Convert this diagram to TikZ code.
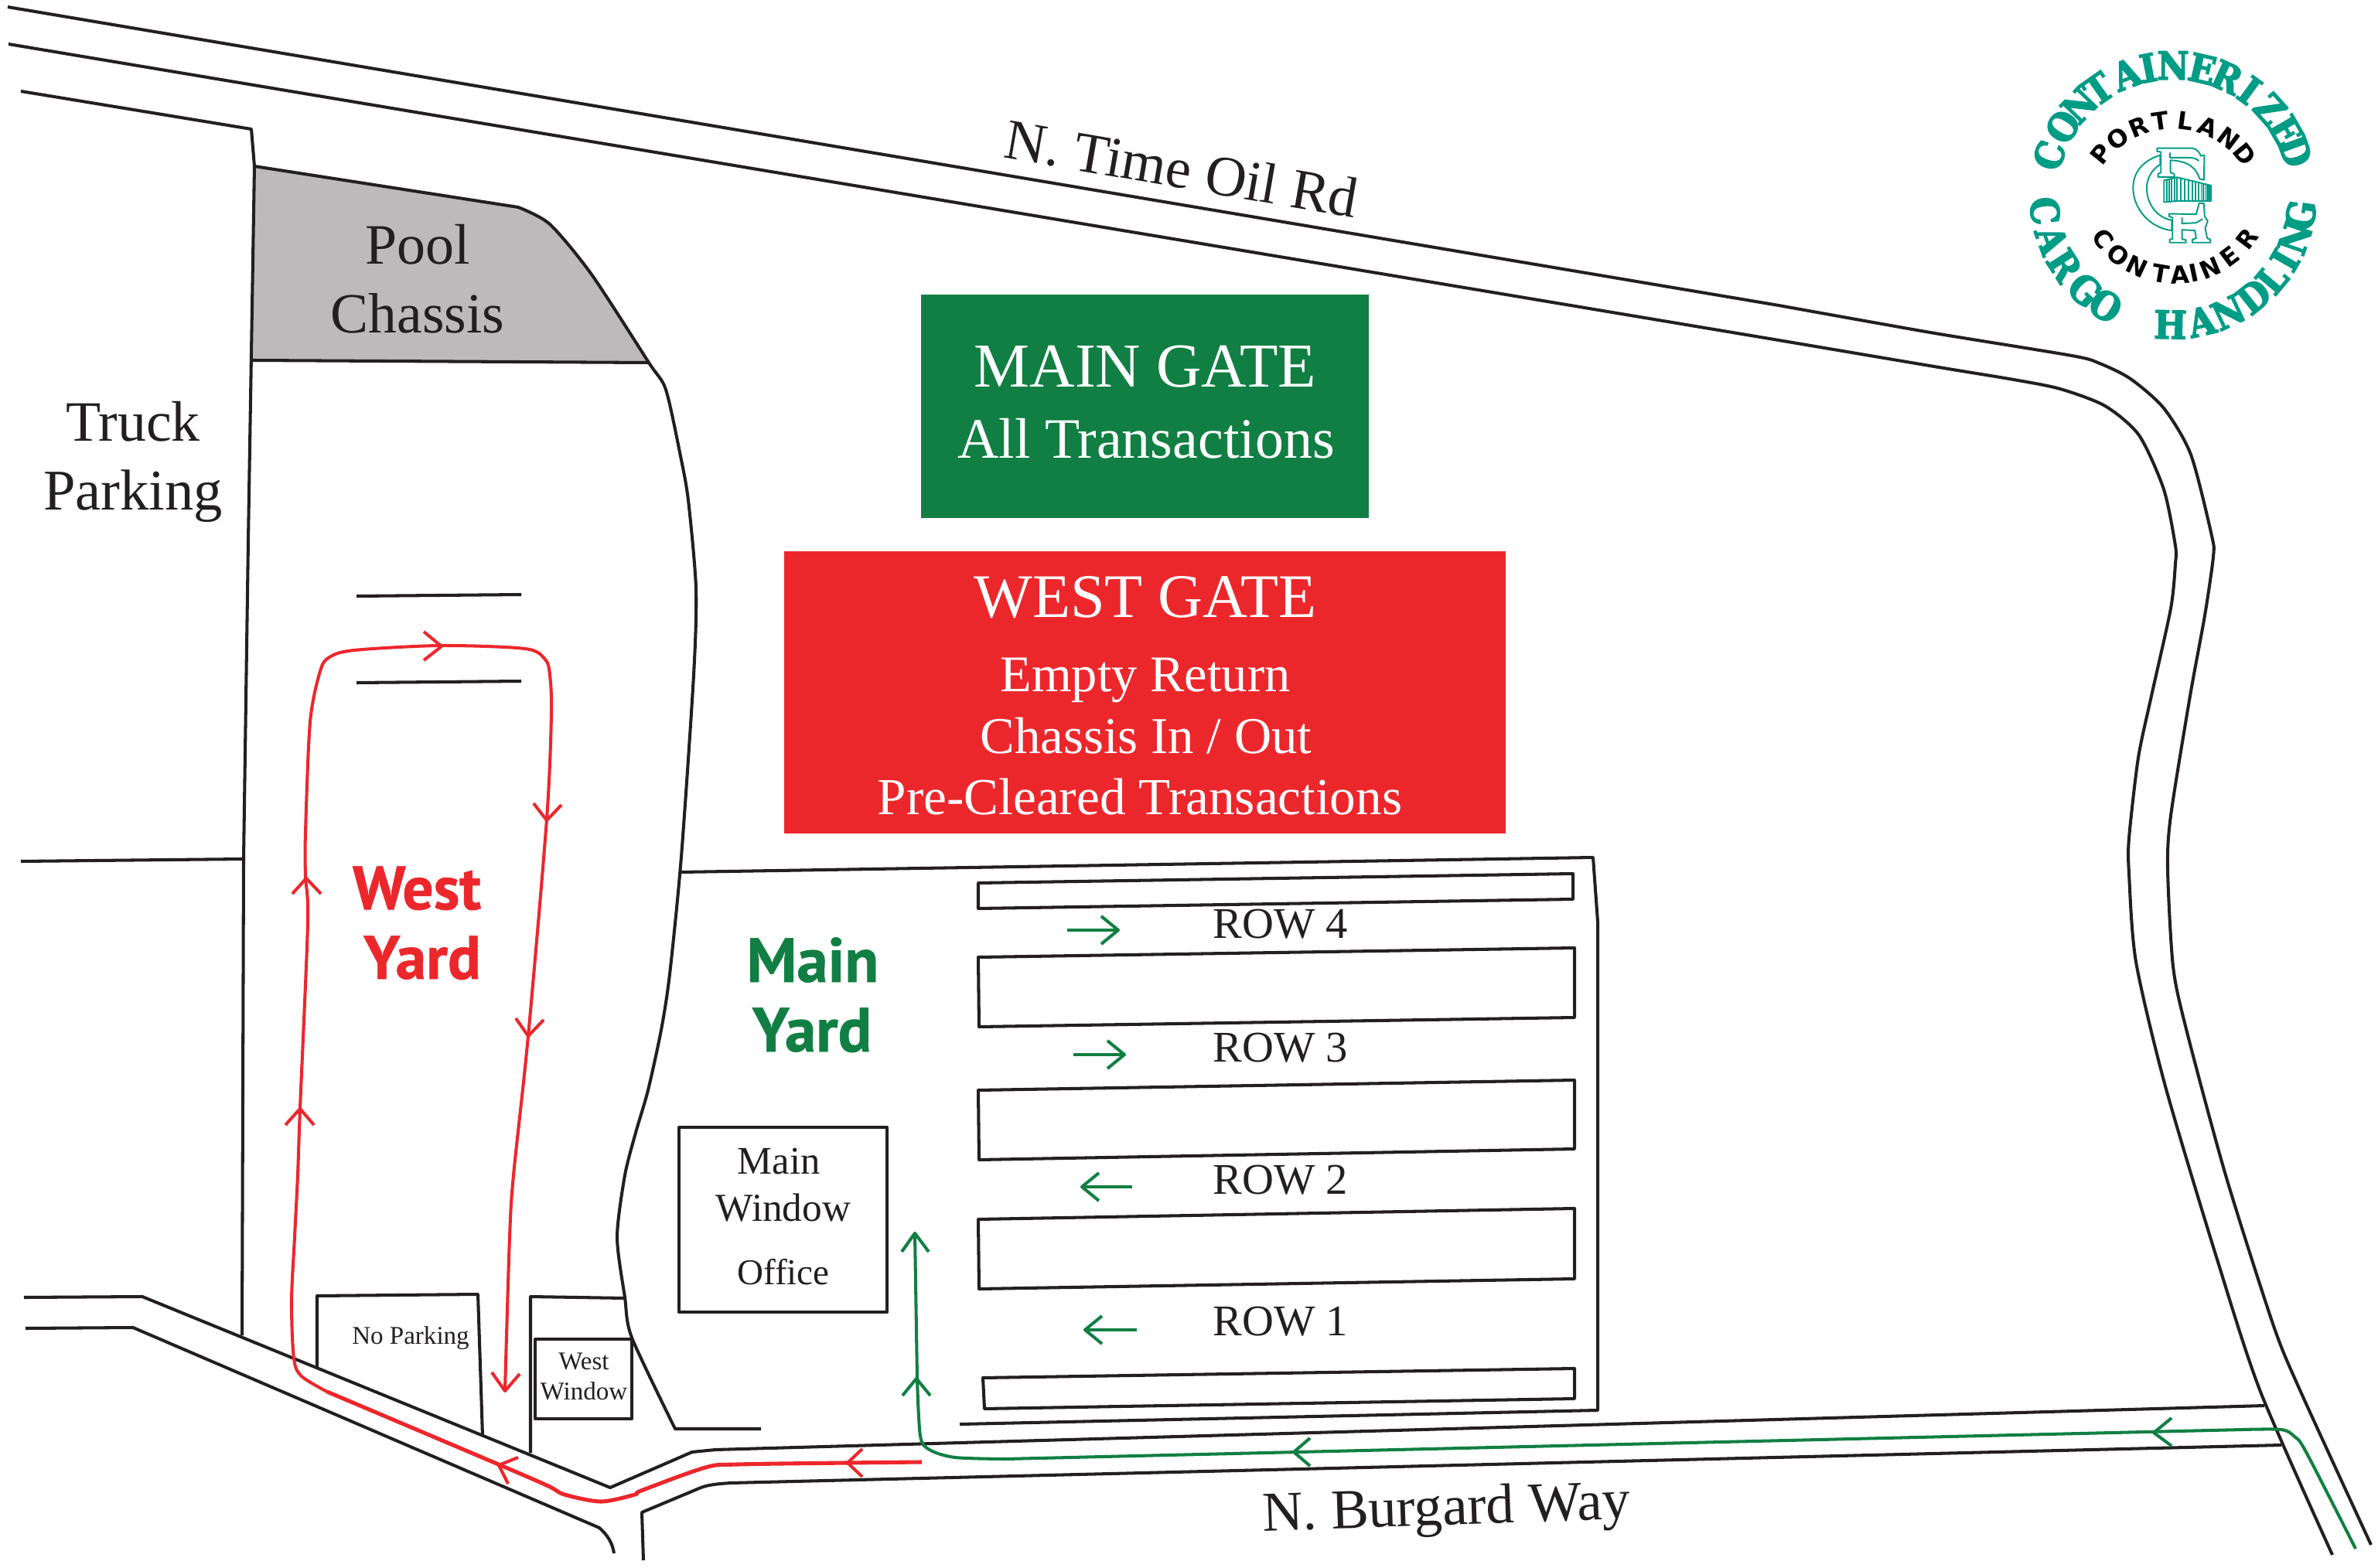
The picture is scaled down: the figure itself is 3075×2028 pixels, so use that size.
\documentclass[tikz,border=0pt]{standalone}
\usepackage{fontspec}
\setmainfont{Liberation Serif}
\newfontfamily\yardfont[BoldFeatures={FakeBold=0.8}]{PT Sans}
\newfontfamily\stencilfont[BoldFeatures={FakeBold=3}]{DejaVu Serif Condensed}
\newfontfamily\logosans{DejaVu Sans}
\definecolor{ink}{HTML}{231F20}
\definecolor{gategreen}{HTML}{117F43}
\definecolor{gatered}{HTML}{EC272C}
\definecolor{poolgray}{HTML}{BCBABB}
\definecolor{teal}{HTML}{009C86}
\newcommand\FS[1]{\fontsize{#1}{#1}\selectfont}
\tikzset{
  road/.style={draw=ink,line width=1.15pt,line join=round},
  redway/.style={draw=gatered,line width=1.15pt,line join=round},
  redroad/.style={draw=gatered,line width=1.45pt,line join=round},
  greenway/.style={draw=gategreen,line width=1.15pt,line join=round},
  lab/.style={anchor=base,inner sep=0pt,text=ink},
  gatelab/.style={anchor=base,inner sep=0pt,text=white},
  redyard/.style={anchor=base,inner sep=0pt,text=gatered,font=\yardfont\bfseries\FS{22.6}},
  greenyard/.style={anchor=base,inner sep=0pt,text=gategreen,font=\yardfont\bfseries\FS{23}},
  rowlab/.style={lab,font=\FS{16.1}},
  rowbox/.style={road,line cap=round},
  emblem/.style={draw=teal,line width=.55pt,fill=white,line join=round},
  stencilletter/.style={anchor=base,inner sep=0pt,text=teal,font=\stencilfont\bfseries\FS{14.2}},
  blackletter/.style={anchor=base,inner sep=0pt,text=black,font=\logosans\bfseries\FS{9}},
}
\begin{document}
\begin{tikzpicture}[x=0.01cm,y=-0.01cm]
\useasboundingbox (0,0) rectangle (3075,2028);
% top road
\draw[road] (10,9) -- (2300,395) plot[smooth,tension=.45] coordinates {(2300,395) (2496,430) (2679,460) (2715,470) (2755,490) (2798,528) (2833,588) (2860,693) (2862,720) (2851,796) (2832,900) (2807,1055) (2803,1124) (2810,1250) (2827,1331) (2878,1520) (2940,1715) (2975,1800) (3066,1998)};
\draw[road] (11,57) -- (2300,440) plot[smooth,tension=.45] coordinates {(2300,440) (2501,474) (2604,491) (2664,503) (2722,525) (2766,563) (2798,633) (2813,706) (2813,729) (2807,787) (2782,900) (2765,980) (2753,1084) (2753,1130) (2762,1244) (2800,1405) (2867,1629) (2923,1800) (3016,2011)};
% pool chassis
\fill[poolgray] (329,215) -- (670,268) -- (711,290) -- (765,355) -- (839,469) -- (326,466) -- cycle;
\draw[road] (27,118) -- (325,167) -- (329,215) -- (321,700) -- (315,1111) -- (313,1727);
\draw[road] (329,215) -- (670,268) plot[smooth,tension=.45] coordinates {(670,268) (711,290) (765,355) (839,469) (861,504) (880,590) (890,647) (900,761) (897,873) (881,1108) (866,1260) (855,1332) (838,1410) (822,1465) (808,1520) (798,1600) (808,1678) (817,1730) (873,1848)} -- (984,1848);
\draw[road] (326,466) -- (839,469);
\draw[road] (27,1114) -- (315,1111);
\draw[road] (461,771) -- (674,769);
\draw[road] (461,883) -- (674,881);
% main yard outline
\draw[road] (880,1128) -- (2060,1109) -- (2066,1192) -- (2066,1824) -- (1241,1842);
% row boxes
\draw[rowbox] (1265,1142) -- (2034,1130) -- (2034,1163) -- (1265,1175) -- cycle;
\draw[rowbox] (1265,1238) -- (2036,1226) -- (2036,1316) -- (1266,1328) -- cycle;
\draw[rowbox] (1265,1410) -- (2036,1397) -- (2036,1486) -- (1266,1500) -- cycle;
\draw[rowbox] (1265,1577) -- (2036,1563) -- (2036,1654) -- (1266,1667) -- cycle;
\draw[rowbox] (1271,1782) -- (2036,1770) -- (2036,1809) -- (1273,1822) -- cycle;
% main window office
\draw[road] (878,1458) rectangle (1147,1697);
% bottom road
\draw[road] (31,1678) -- (184,1677) -- (789,1924) -- (895,1878) .. controls (905,1877) and (915,1876) .. (925,1875) -- (2928,1818);
\draw[road] (33,1718) -- (172,1717) -- (775,1976) .. controls (785,1985) and (792,1995) .. (794,2009);
\draw[road] (832,2018) -- (830,1956) -- (904,1925) .. controls (915,1920) and (930,1919) .. (945,1918) -- (2950,1869);
% no parking + west window
\draw[road] (410,1768) -- (410,1676) -- (618,1674) -- (624,1857);
\draw[road] (686,1879) -- (686,1677) -- (808,1679);
\draw[road] (692,1732) rectangle (817,1835);
% gates
\fill[gategreen] (1191,381) rectangle (1770,670);
\fill[gatered] (1014,713) rectangle (1947,1078);
\node[gatelab,font=\FS{23}] (maingate) at (1481,501) {MAIN GATE};
\node[gatelab,font=\FS{21}] (alltrans) at (1482,593) {All Transactions};
\node[gatelab,font=\FS{22.8}] (westgate) at (1481,799) {WEST GATE};
\node[gatelab,font=\FS{18.9}] (empty) at (1481,894) {Empty Return};
\node[gatelab,font=\FS{19}] (chassisio) at (1482,974) {Chassis In / Out};
\node[gatelab,font=\FS{19.1}] (precleared) at (1474,1054) {Pre-Cleared Transactions};
% labels
\node[lab,font=\FS{21}] (pool) at (540,342) {Pool};
\node[lab,font=\FS{20.9}] (chassis) at (540,431) {Chassis};
\node[lab,font=\FS{21}] (truck) at (172,571) {Truck};
\node[lab,font=\FS{21.2}] (parking) at (172,660) {Parking};
\node[lab,font=\FS{21},rotate=-9.8] (timeoil) at (1524,243) {N. Time Oil Rd};
\node[lab,font=\FS{20.7},rotate=2] (burgard) at (1871,1972) {N. Burgard Way};
\node[redyard] (westw) at (539,1176) {West};
\node[redyard] (westy) at (546,1266) {Yard};
\node[greenyard] (mainm) at (1051,1270) {Main};
\node[greenyard] (mainy) at (1050,1360) {Yard};
\node[rowlab] (row4) at (1656,1213) {ROW 4};
\node[rowlab] (row3) at (1656,1373) {ROW 3};
\node[rowlab] (row2) at (1656,1544) {ROW 2};
\node[rowlab] (row1) at (1656,1727) {ROW 1};
\node[lab,font=\FS{14.4}] (mw1) at (1007,1518) {Main};
\node[lab,font=\FS{14.6}] (mw2) at (1013,1579) {Window};
\node[lab,font=\FS{13.4}] (mw3) at (1013,1661) {Office};
\node[lab,font=\FS{9.4}] (noparking) at (531,1738) {No Parking};
\node[lab,font=\FS{9.4}] (ww1) at (755,1771) {West};
\node[lab,font=\FS{9.4}] (ww2) at (755,1810) {Window};
% red route
\draw[redway] plot[smooth,tension=.5] coordinates {(653,1798) (659,1600) (664,1520) (683,1340) (707,1059) (713,924) (711,873) (705,853) (679,839) (569,835) (458,841) (426,850) (414,868) (401,934) (395,1077) (395,1133) (398,1194) (388,1434) (385,1520) (381,1600) (377,1683) (380,1757) (390,1780) (423,1800)};
\draw[redroad] plot[smooth,tension=.5] coordinates {(423,1800) (647,1895) (709,1922) (730,1933) (777,1942) (821,1933) (829,1928) (912,1898) (954,1894) (1095,1892) (1192,1891)};
\draw[redway] (548,817) -- (571,836) -- (548,854);
\draw[redway] (378,1156) -- (396,1136) -- (415,1156);
\draw[redway] (369,1455) -- (388,1434) -- (406,1455);
\draw[redway] (690,1039) -- (707,1061) -- (726,1041);
\draw[redway] (667,1317) -- (683,1340) -- (703,1319);
\draw[redway] (636,1775) -- (653,1799) -- (672,1777);
\draw[redway] (670,1885) -- (645,1895) -- (657,1919);
\draw[redway] (1115,1874) -- (1096,1892) -- (1115,1910);
% green route
\draw[greenway] plot[smooth,tension=.5] coordinates {(3046,2003) (2982,1878) (2967,1858) (2950,1849) (2900,1849)} -- (1300,1887) plot[smooth,tension=.5] coordinates {(1300,1887) (1235,1885) (1202,1875) (1190,1857) (1186,1783)} -- (1183,1595);
\draw[greenway] (1166,1619) -- (1183,1595) -- (1201,1619);
\draw[greenway] (1167,1805) -- (1185,1783) -- (1203,1805);
\draw[greenway] (2808,1834) -- (2785,1853) -- (2808,1870);
\draw[greenway] (1694,1860) -- (1673,1878) -- (1694,1896);
\draw[greenway] (1380,1203) -- (1446,1203);
\draw[greenway] (1424,1185) -- (1446,1203) -- (1424,1221);
\draw[greenway] (1388,1364) -- (1454,1364);
\draw[greenway] (1432,1346) -- (1454,1364) -- (1432,1382);
\draw[greenway] (1464,1535) -- (1399,1535);
\draw[greenway] (1421,1517) -- (1399,1535) -- (1421,1553);
\draw[greenway] (1470,1720) -- (1403,1720);
\draw[greenway] (1425,1702) -- (1403,1720) -- (1425,1738);
% logo
\foreach \L/\a [count=\i] in {C/162,O/148,N/136,T/125,A/111,I/101,N/90,E/77,R/65.5,I/54,Z/41.8,E/30,D/20}
  \node[stencilletter,rotate=\a-90] (cz\i) at ([shift={(2810,253)}]\a:1.5cm) {\L};
\foreach \L/\a [count=\i] in {C/186.8,A/200,R/212.7,G/227,O/238.5}
  \node[stencilletter,rotate=\a-270] (cg\i) at ([shift={(2810,253)}]\a:1.85cm) {\L};
\foreach \L/\a [count=\i] in {H/268.8,A/282.8,N/295.3,D/308.7,L/319.9,I/330,N/340.9,G/351.3}
  \node[stencilletter,rotate=\a-270] (hd\i) at ([shift={(2810,253)}]\a:1.85cm) {\L};
\foreach \L/\a [count=\i] in {P/141,O/126.5,R/112,T/98,L/82.4,A/67.8,N/53,D/39}
  \node[blackletter,rotate=\a-90] (pt\i) at ([shift={(2810,275)}]\a:1.08cm) {\L};
\foreach \L/\a [count=\i] in {C/216.9,O/231,N/245,T/260.4,A/273.2,I/282,N/293,E/307,R/323}
  \node[blackletter,rotate=\a-270] (ct\i) at ([shift={(2813,239)}]\a:1.28cm) {\L};
\begin{scope}[shift={(2740,180)},x=0.00333cm,y=-0.00333cm]
\draw[emblem] (160,62) .. controls (90,85) and (55,130) .. (55,190) .. controls (55,270) and (120,345) .. (205,355) -- (205,315) .. controls (150,305) and (108,255) .. (108,190) .. controls (108,155) and (125,120) .. (160,98) -- cycle;
\draw[emblem] (312,248) -- (330,250) -- (333,300) -- (345,318) -- (335,345) -- (343,385) -- (355,390) -- (355,402) -- (285,402) -- (285,390) -- (300,385) -- (295,355) -- (245,352) -- (245,388) -- (260,392) -- (260,402) -- (197,402) -- (197,390) -- (208,388) -- (208,305) -- (195,300) -- (195,290) -- (300,292) -- cycle;
\draw[emblem] (245,305) -- (245,328) -- (300,325) -- (325,310);
\draw[emblem] (148,35) -- (285,35) .. controls (305,38) and (315,55) .. (318,65) -- (332,62) -- (330,158) -- (314,155) .. controls (300,115) and (275,85) .. (200,82) -- (200,130) -- (215,135) -- (215,147) -- (152,147) -- (152,135) -- (163,130) -- (163,50) -- (148,47) -- cycle;
\draw[emblem,fill=none] (198,52) -- (198,72) -- (275,72) .. controls (292,72) and (305,78) .. (310,85);
\draw[emblem] (175,160) -- (225,148) -- (358,180) -- (358,240) -- (230,240) -- (175,245) -- cycle;
\foreach \cx/\ct in {185/158,195/156,205/153,215/151,225/148,240/152,255/156,270/160,285/163,298/166,310/169,320/172,328/174,335/175,342/177,348/178,353/179}{
  \draw[draw=teal,line width=.55pt] (\cx,\ct) -- (\cx,242);
}
\end{scope}
\end{tikzpicture}
\end{document}
